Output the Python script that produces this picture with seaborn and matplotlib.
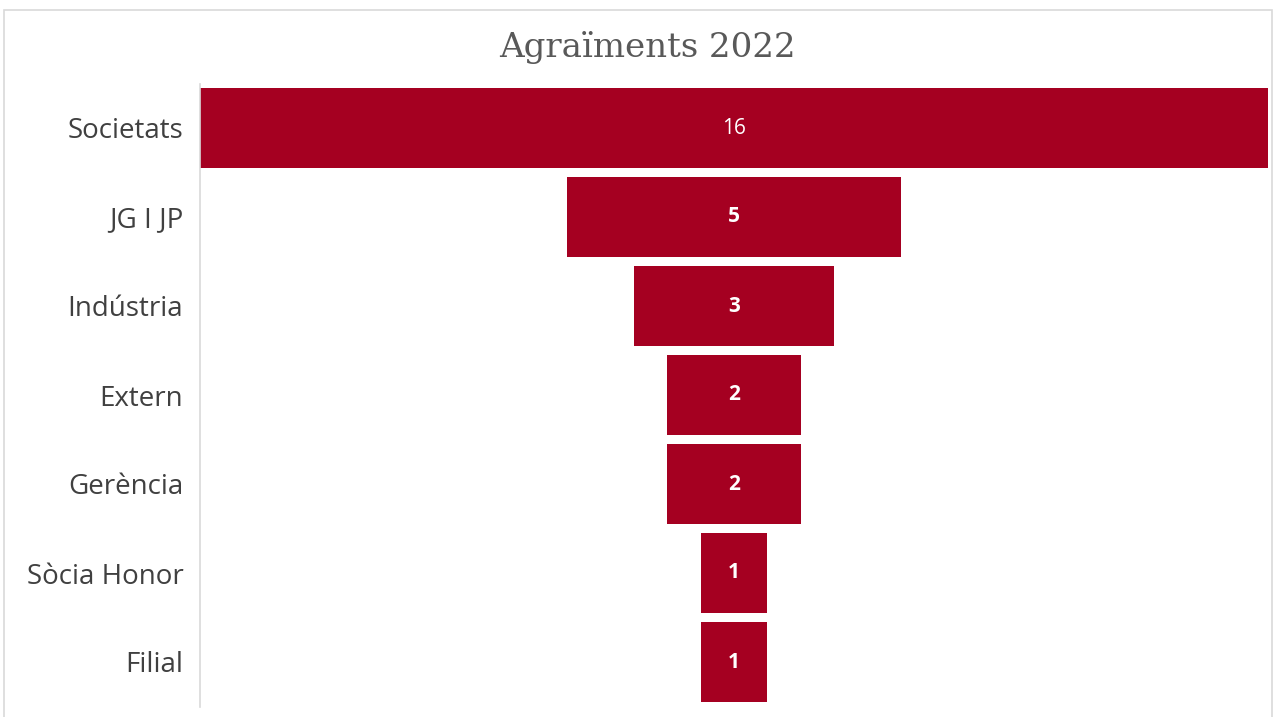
import matplotlib
matplotlib.use('Agg')
import matplotlib.pyplot as plt
import seaborn as sns
import pandas as pd
from matplotlib.patches import Rectangle

# -------------------------------
# data
# -------------------------------
categories = ['Societats', 'JG I JP', 'Indústria', 'Extern', 'Gerència', 'Sòcia Honor', 'Filial']
values = [16, 5, 3, 2, 2, 1, 1]
title = 'Agraïments 2022'

df = pd.DataFrame({'cat': categories, 'val': values})

sns.set_style('white')
plt.rcParams['font.family'] = ['Open Sans', 'DejaVu Sans']

fig = plt.figure(figsize=(12.76, 7.17), dpi=100)
ax = fig.add_axes([200 / 1276, 1 - 706.5 / 717, 1068 / 1276, 623 / 717])

sns.barplot(data=df, x='val', y='cat', color='#A50021', saturation=1,
            width=0.91, orient='h', ax=ax)

# center each bar -> funnel
vmax = max(values)
for p, v in zip(ax.patches, values):
    p.set_x((vmax - v) / 2)
    p.set_edgecolor('none')
    ax.text((vmax - v) / 2 + v / 2, p.get_y() + p.get_height() / 2, str(v),
            ha='center', va='center', color='white', fontsize=15,
            fontweight='normal' if v == vmax else 'bold')

ax.set_xlim(0, vmax)
ax.set_ylim(len(values) - 0.5, -0.5)
ax.set_xlabel('')
ax.set_ylabel('')
ax.set_xticks([])
ax.tick_params(axis='y', length=0, pad=12, labelsize=20, labelcolor='#404040')
for s in ['top', 'right', 'bottom']:
    ax.spines[s].set_visible(False)
ax.spines['left'].set_color('#d9d9d9')
ax.spines['left'].set_linewidth(1.2)

fig.text(647 / 1276, 1 - 48 / 717, title, ha='center', va='center',
         fontsize=24.5, color='#595959', family=['DejaVu Serif', 'Liberation Serif'])

# light frame around the chart
fig.patches.append(Rectangle((4 / 1276, -0.05), 1268 / 1276, 1.05 - 10 / 717,
                             transform=fig.transFigure, fill=False,
                             edgecolor='#d9d9d9', linewidth=1.2))

fig.savefig('out.png', dpi=100)
